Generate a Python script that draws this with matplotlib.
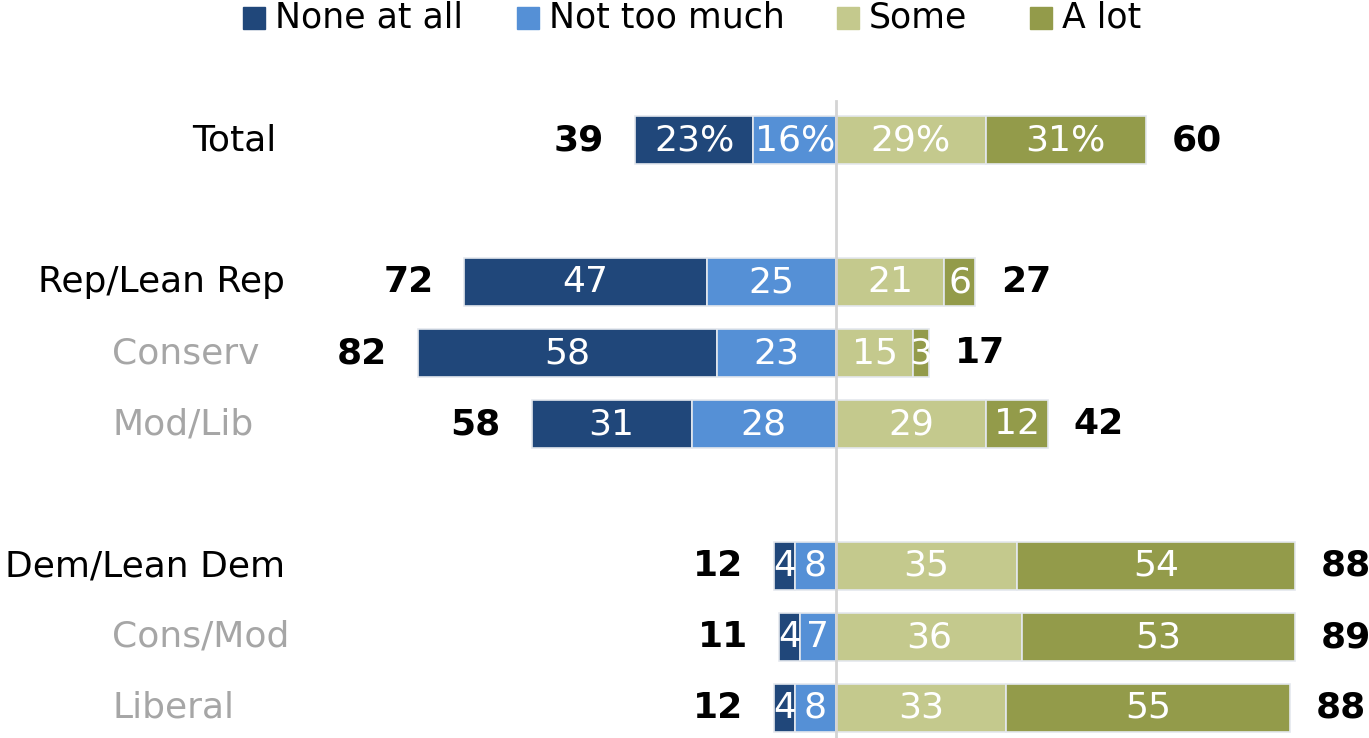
import matplotlib
matplotlib.use("Agg")
import matplotlib.pyplot as plt
from matplotlib.patches import Rectangle

plt.rcParams['font.family'] = ['DejaVu Sans']

categories = ["Total", "Rep/Lean Rep", "Conserv", "Mod/Lib",
              "Dem/Lean Dem", "Cons/Mod", "Liberal"]
is_sub = [False, False, True, True, False, True, True]
row_pos = [0, 2, 3, 4, 6, 7, 8]

none_at_all = [23, 47, 58, 31, 4, 4, 4]
not_too_much = [16, 25, 23, 28, 8, 7, 8]
some = [29, 21, 15, 29, 35, 36, 33]
a_lot = [31, 6, 3, 12, 54, 53, 55]
net_no = [39, 72, 82, 58, 12, 11, 12]
net_yes = [60, 27, 17, 42, 88, 89, 88]

series_names = ["None at all", "Not too much", "Some", "A lot"]
colors = ["#20477a", "#5590d6", "#c4c98d", "#939b4a"]

W, H = 1369, 738
fig = plt.figure(figsize=(W / 100, H / 100), dpi=100)
ax = fig.add_axes([0, 0, 1, 1])
px_per_unit = 5.16
px_per_row = 71.0
x0_px, y0_px = 836, 140
ax.set_xlim(-x0_px / px_per_unit, (W - x0_px) / px_per_unit)
ax.set_ylim((H - y0_px) / px_per_row, -y0_px / px_per_row)
ax.axis('off')

FS = 26
bh = 0.68
edge = "#e4e8ee"
for i, y in enumerate(row_pos):
    n1, n2, s1, s2 = none_at_all[i], not_too_much[i], some[i], a_lot[i]
    pct = "%" if i == 0 else ""
    segs = [(-(n1 + n2), n1, colors[0], n1),
            (-n2, n2, colors[1], n2),
            (0, s1, colors[2], s1),
            (s1, s2, colors[3], s2)]
    for left, width, c, v in segs:
        ax.barh(y, width, left=left, height=bh, color=c,
                edgecolor=edge, linewidth=1.2, zorder=2)
        ax.text(left + width / 2, y, f"{v}{pct}", ha='center', va='center',
                color='white', fontsize=FS, zorder=4)
    ax.text(-(n1 + n2) - 6, y, str(net_no[i]), ha='right', va='center',
            fontsize=FS, fontweight='bold', color='black')
    ax.text(s1 + s2 + 5.0, y, str(net_yes[i]), ha='left', va='center',
            fontsize=FS, fontweight='bold', color='black')
    if is_sub[i]:
        ax.text((112 - x0_px) / px_per_unit, y, categories[i], ha='left',
                va='center', fontsize=FS, color='#a6a6a6')
    else:
        xr = 276 if i == 0 else 285
        ax.text((xr - x0_px) / px_per_unit, y, categories[i], ha='right',
                va='center', fontsize=FS, color='black')

# center line
ax.plot([0, 0], [(101 - y0_px) / px_per_row, (H - y0_px) / px_per_row],
        color='#d4d4d4', linewidth=2, zorder=3)

# legend
leg_sq_x = [243, 517, 837, 1030]
leg_y = 18
sq = 22
for name, c, lx in zip(series_names, colors, leg_sq_x):
    fig.patches.append(Rectangle((lx / W, 1 - (leg_y + sq / 2) / H), sq / W, sq / H,
                                 transform=fig.transFigure, color=c))
    fig.text((lx + 32) / W, 1 - leg_y / H, name, ha='left', va='center',
             fontsize=25, color='black')

fig.savefig("out.png", dpi=100)
